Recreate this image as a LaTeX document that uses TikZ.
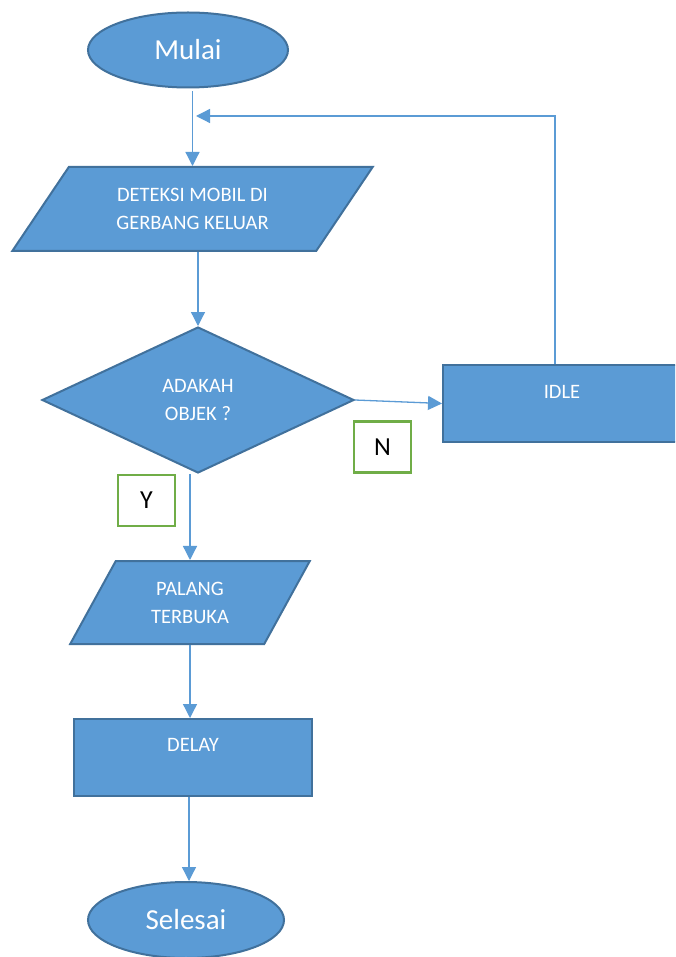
\documentclass[tikz,border=0pt]{standalone}
\usepackage{fontspec}
\setmainfont{Carlito}
\usetikzlibrary{shapes.geometric,arrows.meta,calc}
\definecolor{boxfill}{HTML}{5B9BD5}
\definecolor{boxedge}{HTML}{41719C}
\definecolor{linkcol}{HTML}{5B9BD5}
\definecolor{tagedge}{HTML}{70AD47}

\tikzset{
  shapebase/.style={fill=boxfill, draw=boxedge, line width=2pt, inner sep=0pt,
    text=white, align=center, font=\fontsize{20.5}{28}\selectfont},
  terminal/.style={shapebase, ellipse, font=\fontsize{29}{32}\selectfont},
  iobox/.style={shapebase, trapezium, trapezium stretches=true},
  decision/.style={shapebase, diamond},
  procbox/.style={shapebase, rectangle},
  boxtext/.style={text=white, inner sep=0pt, font=\fontsize{20.5}{28}\selectfont},
  tag/.style={draw=tagedge, fill=white, line width=2.5pt, rectangle,
    minimum width=57pt, minimum height=51pt, inner sep=0pt,
    font=\fontsize{26}{30}\selectfont},
  link/.style={draw=linkcol, line width=1.3pt,
    -{Triangle[length=14pt,width=14pt]}},
}

\begin{document}
\begin{tikzpicture}[x=1pt,y=-1pt]
  \clip (0,0) rectangle (675,957);
  \fill[white] (0,0) rectangle (675,957);

  % start / end
  \node[terminal, minimum width=200pt, minimum height=75pt] (mulai) at (188,50) {Mulai};
  \node[terminal, minimum width=196pt, minimum height=76pt] (sel) at (186,920) {Selesai};

  % input: car detected at the exit gate
  \node[iobox, trapezium left angle=50, trapezium right angle=130,
        minimum width=361pt, minimum height=84pt] (det) at (192.5,209)
        {DETEKSI MOBIL DI\\GERBANG KELUAR};

  % decision
  \node[decision, minimum width=312pt, minimum height=146pt] (dec) at (198,400)
        {ADAKAH\\OBJEK ?};

  % idle branch
  \node[procbox, minimum width=238pt, minimum height=77pt] (idle) at (562,403.5) {};
  \node[boxtext] (idlet) at (562,392) {IDLE};

  % output: barrier opens
  \node[iobox, trapezium left angle=60, trapezium right angle=120,
        minimum width=240pt, minimum height=83pt] (pal) at (190,602.5)
        {PALANG\\TERBUKA};

  % delay
  \node[procbox, minimum width=238pt, minimum height=77pt] (delay) at (193,757.5) {};
  \node[boxtext] (delayt) at (193,745) {DELAY};

  % branch tags
  \node[tag] (tn) at (382.5,447) {N};
  \node[tag] (ty) at (146.5,500.5) {Y};

  % connectors
  \coordinate (fbin) at (196,116);
  \draw[link, shorten <=3pt] (mulai.south -| det.center) -- (det.center |- det.north);
  \draw[link] (dec.north |- det.south) -- (dec.north);
  \draw[link] (dec.east) -- (idle.west);
  \draw[link] ([xshift=-7pt]idle.north) |- (fbin);
  \draw[link] ([xshift=-8pt]dec.south) -- ([xshift=-8pt]dec.south |- pal.north);
  \draw[link] (pal.south) -- (pal.south |- delay.north);
  \draw[link] ([xshift=-4pt]delay.south) -- ([xshift=-4pt]delay.south |- sel.north);
\end{tikzpicture}
\end{document}
